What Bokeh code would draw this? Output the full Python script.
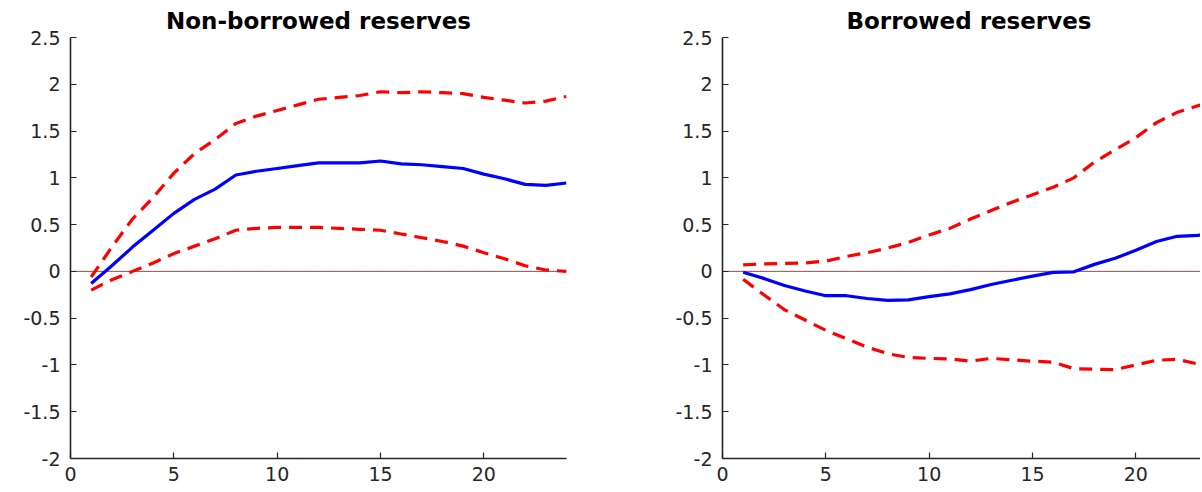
from bokeh.plotting import figure
from bokeh.layouts import row
from bokeh.models import Range1d, FixedTicker, Title, Span
from bokeh.embed import file_html
from bokeh.resources import INLINE

# ---------------- data ----------------
horizon = list(range(1, 25))

nbr_irf = [-0.13, 0.06, 0.26, 0.44, 0.62, 0.77, 0.88, 1.03, 1.07, 1.10, 1.13, 1.16,
           1.16, 1.16, 1.18, 1.15, 1.14, 1.12, 1.10, 1.04, 0.99, 0.93, 0.92, 0.945]
nbr_upper = [-0.06, 0.26, 0.56, 0.79, 1.05, 1.26, 1.41, 1.58, 1.66, 1.72, 1.78, 1.84,
             1.86, 1.88, 1.92, 1.91, 1.92, 1.91, 1.90, 1.86, 1.83, 1.80, 1.82, 1.87]
nbr_lower = [-0.20, -0.09, 0.0, 0.09, 0.19, 0.27, 0.35, 0.44, 0.46, 0.47, 0.47, 0.47,
             0.46, 0.45, 0.44, 0.40, 0.36, 0.32, 0.27, 0.20, 0.135, 0.06, 0.015, 0.0]

br_irf = [-0.01, -0.075, -0.15, -0.21, -0.26, -0.26, -0.29, -0.31, -0.305, -0.27, -0.24, -0.195,
          -0.14, -0.095, -0.05, -0.01, -0.005, 0.075, 0.14, 0.225, 0.32, 0.375, 0.385, 0.40]
br_upper = [0.07, 0.08, 0.085, 0.09, 0.11, 0.16, 0.20, 0.25, 0.31, 0.39, 0.46, 0.56,
            0.65, 0.74, 0.82, 0.90, 1.00, 1.17, 1.30, 1.43, 1.59, 1.70, 1.77, 1.84]
br_lower = [-0.085, -0.25, -0.41, -0.52, -0.63, -0.72, -0.81, -0.88, -0.92, -0.93, -0.935, -0.96,
            -0.93, -0.945, -0.96, -0.97, -1.04, -1.045, -1.05, -1.00, -0.95, -0.94, -0.99, -1.03]

titles = ["Non-borrowed reserves", "Borrowed reserves"]
x_ticks = [0, 5, 10, 15, 20]
y_ticks = [-2, -1.5, -1, -0.5, 0, 0.5, 1, 1.5, 2, 2.5]
y_tick_labels = ["-2", "-1.5", "-1", "-0.5", "0", "0.5", "1", "1.5", "2", "2.5"]

# ---------------- layout ----------------
FRAME_H = 421
UNIT = 496 / 24.0

AX = "#262626"
TICK_FONT = "DejaVu Sans"


def make_panel(title, irf, upper, lower, frame_w, border_left, border_right, x_end,
               title_align, title_offset):
    p = figure(frame_width=frame_w, frame_height=FRAME_H,
               x_range=Range1d(0, x_end), y_range=Range1d(-2, 2.5),
               output_backend="svg", toolbar_location=None,
               min_border_left=border_left, min_border_right=border_right,
               min_border_top=37, min_border_bottom=32,
               background_fill_color="white", border_fill_color="white")
    p.outline_line_color = None
    p.grid.visible = False

    t = Title(text=title, align=title_align, offset=title_offset,
              text_font="DejaVu Sans", text_font_style="bold",
              text_font_size="23px", text_color="black", standoff=8)
    p.add_layout(t, "above")

    for ax in (p.xaxis[0], p.yaxis[0]):
        ax.axis_line_color = AX
        ax.axis_line_width = 1.6
        ax.major_tick_line_color = AX
        ax.major_tick_line_width = 1.2
        ax.major_tick_in = 6
        ax.major_tick_out = 0
        ax.minor_tick_line_color = None
        ax.major_label_text_font = TICK_FONT
        ax.major_label_text_font_size = "19px"
        ax.major_label_text_color = AX

    p.xaxis.ticker = FixedTicker(ticks=x_ticks)
    p.xaxis.major_label_overrides = {t_: str(t_) for t_ in x_ticks}
    p.xaxis.major_label_standoff = 8
    p.yaxis.ticker = FixedTicker(ticks=y_ticks)
    p.yaxis.major_label_overrides = dict(zip(y_ticks, y_tick_labels))
    p.yaxis.major_label_standoff = 10

    p.add_layout(Span(location=0, dimension="width", line_color="#5a5a5a",
                      line_width=1, level="underlay"))
    p.add_layout(Span(location=0, dimension="width", line_color="#ff6060",
                      line_width=1, line_dash="1 2", level="underlay"))

    p.line(horizon, upper, line_color="#ff0000", line_width=3.2, line_dash="13 8")
    p.line(horizon, lower, line_color="#ff0000", line_width=3.2, line_dash="13 8")
    p.line(horizon, irf, line_color="#0000ff", line_width=3.2)
    return p


left = make_panel(titles[0], nbr_irf, nbr_upper, nbr_lower,
                  496, 70, 10, 24, "center", 0)
right_frame_w = 478
right = make_panel(titles[1], br_irf, br_upper, br_lower,
                   right_frame_w, 146, 0, right_frame_w / UNIT, "left", 124)

layout = row(left, right)
open("out.html", "w").write(file_html(layout, INLINE))
